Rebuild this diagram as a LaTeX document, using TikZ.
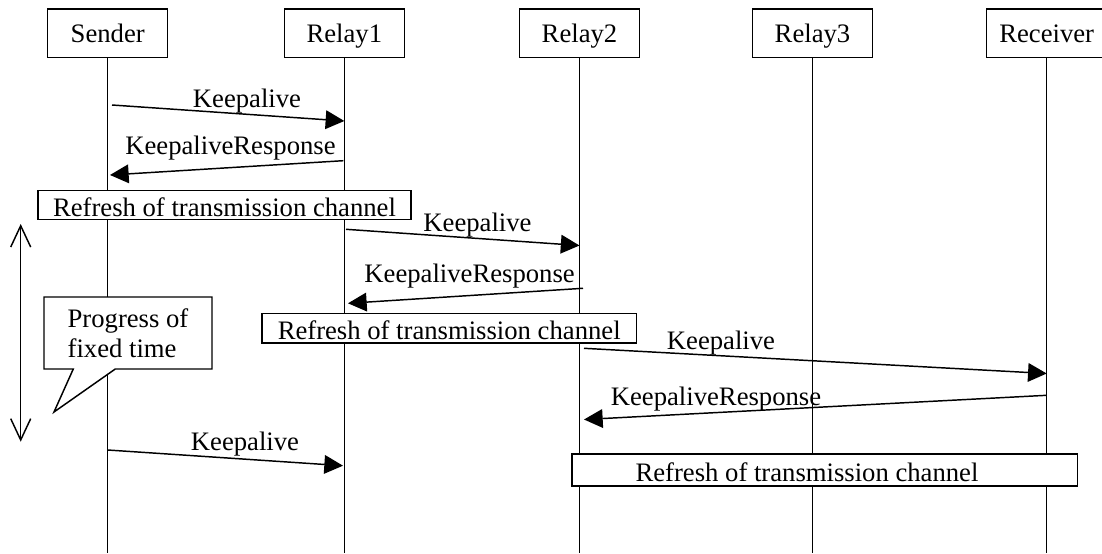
\documentclass[tikz,border=0pt]{standalone}
\usepackage{fontspec}
\setmainfont{Liberation Serif}
\usetikzlibrary{arrows.meta,shapes.callouts}
\begin{document}
\begin{tikzpicture}[x=0.75pt,y=-0.75pt,
  every node/.style={font=\fontsize{20}{22.5}\selectfont},
  actor/.style={draw,line width=1.1pt,fill=white,minimum width=90pt,minimum height=36.2pt,
    inner sep=0pt,text height=14.2pt,text depth=0pt},
  life/.style={line width=1.1pt},
  refbox/.style={draw,line width=1.1pt,fill=white,inner sep=0pt,text height=16.5pt,text depth=0pt},
  msg/.style={line width=1.1pt,-{Triangle[length=14pt,width=14pt]}},
  msglabel/.style={anchor=base,inner sep=0pt},
]
\useasboundingbox (0,0) rectangle (1102,553);

% participants
\node[actor] (snd) at (107.7,33.2) {Sender};
\node[actor] (r1)  at (344.3,33.2) {Relay1};
\node[actor] (r2)  at (579.5,33.2) {Relay2};
\node[actor] (r3)  at (812.5,33.2) {Relay3};
\node[actor] (rcv) at (1046.7,33.2) {Receiver};

% lifelines
\coordinate (bot) at (0,553);
\foreach \p in {snd,r1,r2,r3,rcv}
  \draw[life] (\p.south) -- (\p.south |- bot);

% channel refresh boxes
\node[refbox,minimum width=279.75pt,minimum height=22.1pt] (ref1) at (224.5,205)
  {Refresh of transmission channel};
\node[refbox,minimum width=280.7pt,minimum height=22.3pt] (ref2) at (449.2,328.2)
  {Refresh of transmission channel};
\node[refbox,minimum width=379.1pt,minimum height=24.15pt] (ref3) at (824.75,470.1) {};
\node[msglabel] (ref3t) at (807,481.5) {Refresh of transmission channel};

% message end points
\coordinate (m1a) at (112,105);    \coordinate (m1b) at (344.3,121);
\coordinate (m2a) at (343.3,160.7); \coordinate (m2b) at (110,175);
\coordinate (m3a) at (346,229.3);  \coordinate (m3b) at (579.5,245.5);
\coordinate (m4a) at (583,288.3);  \coordinate (m4b) at (348,303.3);
\coordinate (m5a) at (584,348.3);  \coordinate (m5b) at (1046.7,373.5);
\coordinate (m6a) at (1046.7,395.3); \coordinate (m6b) at (584,419.5);
\coordinate (m7a) at (107.7,450);  \coordinate (m7b) at (343,465.7);

% messages
\draw[msg] (m1a) -- (m1b);
\draw[msg] (m2a) -- (m2b);
\draw[msg] (m3a) -- (m3b);
\draw[msg] (m4a) -- (m4b);
\draw[msg] (m5a) -- (m5b);
\draw[msg] (m6a) -- (m6b);
\draw[msg] (m7a) -- (m7b);

% message labels
\node[msglabel] (l1) at (247,107)   {Keepalive};
\node[msglabel] (l2) at (230.5,154.3) {KeepaliveResponse};
\node[msglabel] (l3) at (477.5,231) {Keepalive};
\node[msglabel] (l4) at (469.6,282.7) {KeepaliveResponse};
\node[msglabel] (l5) at (721,349)   {Keepalive};
\node[msglabel] (l6) at (716,405)   {KeepaliveResponse};
\node[msglabel] (l7) at (245,450)   {Keepalive};

% fixed time interval
\coordinate (tu) at (20.7,224);
\coordinate (td) at (20.7,441.7);
\draw[line width=1.1pt,{Straight Barb[length=16pt,width=15pt]}-{Straight Barb[length=16pt,width=15pt]}] (tu) -- (td);

% note
\node[rectangle callout,draw,fill=white,line width=1.1pt,minimum width=126pt,minimum height=54pt,
  align=left,inner sep=0pt,callout absolute pointer={(54,412)},callout pointer width=31.5pt]
  (note) at (128,333) {Progress of\\fixed time};
\end{tikzpicture}
\end{document}
